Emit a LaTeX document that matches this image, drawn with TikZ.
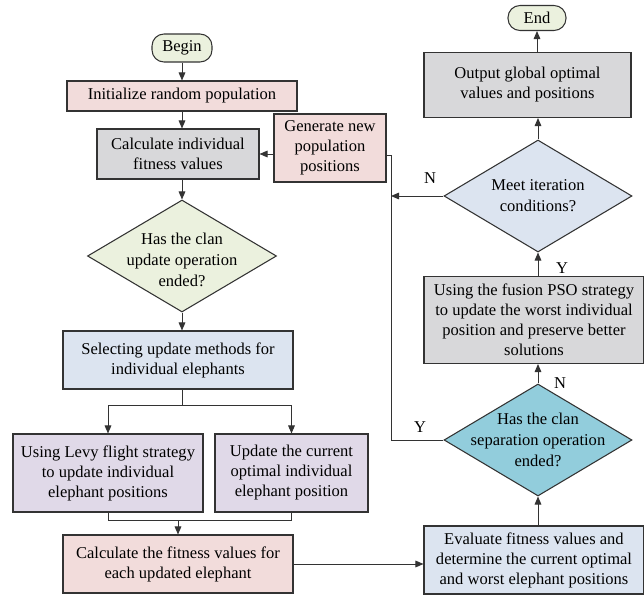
\documentclass[tikz,border=0pt]{standalone}
\usepackage{fontspec}
\setmainfont{Liberation Serif}
\usetikzlibrary{arrows.meta,shapes.geometric}

\definecolor{linegray}{HTML}{333333}
\definecolor{pinkfill}{HTML}{F2DCDB}
\definecolor{grayfill}{HTML}{D8D8DA}
\definecolor{greenfill}{HTML}{EBF1DE}
\definecolor{bluefill}{HTML}{DCE4F0}
\definecolor{lilacfill}{HTML}{E0D9E8}
\definecolor{cyanfill}{HTML}{92CDDC}

\tikzset{
  sz/.style 2 args={minimum width=#1*0.75pt,minimum height=#2*0.75pt},
  box/.style={draw=linegray,line width=0.8pt,align=center,inner sep=2pt},
  term/.style={box,fill=greenfill,rounded corners=9pt},
  dia/.style={diamond,draw=linegray,line width=0.8pt,inner sep=0pt},
  dtext/.style={align=center,font=\fontsize{12.4}{15.8}\selectfont},
  arr/.style={draw=linegray,line width=0.7pt,-{Triangle[length=6pt,width=5pt]}},
  lne/.style={draw=linegray,line width=0.7pt}
}

\begin{document}
\begin{tikzpicture}[x=0.75pt,y=-0.75pt,font=\fontsize{12.4}{15}\selectfont]
\useasboundingbox (0,0) rectangle (644,596);

\node[term,sz={60}{28}] (begin) at (182,48) {Begin};
\node[box,fill=pinkfill,sz={230}{30}] (init) at (182,96) {Initialize random population};
\node[box,fill=grayfill,sz={162}{50}] (calc) at (178,154) {Calculate individual\\fitness values};
\node[box,fill=pinkfill,sz={112}{68}] (gen) at (330,148) {Generate new\\population\\positions};
\node[dia,fill=greenfill,sz={189}{112}] (clan) at (182,256) {};
\node[dtext] (clantxt) at ([yshift=-3pt]clan.center) {Has the clan\\update operation\\ended?};
\node[box,fill=bluefill,sz={230}{58}] (select) at (178,360) {Selecting update methods for\\individual elephants};
\node[box,fill=lilacfill,sz={190}{78}] (levy) at (108,473) {Using Levy flight strategy\\to update individual\\elephant positions};
\node[box,fill=lilacfill,sz={153}{78}] (upd) at (291.5,473) {Update the current\\optimal individual\\elephant position};
\node[box,fill=pinkfill,sz={230}{58}] (fit) at (178,564) {Calculate the fitness values for\\each updated elephant};
\node[box,fill=bluefill,sz={220}{68}] (eval) at (534,560) {Evaluate fitness values and\\determine the current optimal\\and worst elephant positions};
\node[dia,fill=cyanfill,sz={188}{112}] (sep) at (538,440) {};
\node[dtext] (septxt) at (sep) {Has the clan\\separation operation\\ended?};
\node[box,fill=grayfill,sz={220}{87}] (pso) at (534,320) {Using the fusion PSO strategy\\to update the worst individual\\position and preserve better\\solutions};
\node[dia,fill=bluefill,sz={188}{112}] (meet) at (538,196) {};
\node[dtext] (meettxt) at (meet) {Meet iteration\\conditions?};
\node[box,fill=grayfill,sz={207}{65}] (out) at (527.5,85) {Output global optimal\\values and positions};
\node[term,sz={58}{25}] (end) at (537,18) {End};

\coordinate (back) at (391,155);

\draw[arr] (begin) -- (init);
\draw[arr] (init.south) -- (init.south |- calc.north);
\draw[arr] (calc.east -| gen.west) -- (calc.east);
\draw[arr] (calc.south -| clan) -- (clan.north);
\draw[arr] (clan.south) -- (clan.south |- select.north);
\draw[lne] (select.south -| clan) -- ++(0,16) coordinate (split);
\draw[lne] (split -| levy) -- (split -| upd);
\draw[arr] (split -| levy) -- (levy.north);
\draw[arr] (split -| upd) -- (upd.north);
\draw[lne] (levy.south) -- ++(0,8) coordinate (merge) -| (upd.south);
\draw[arr] (merge -| fit) -- (fit.north);
\draw[arr] (fit.east) -- (fit.east -| eval.west);
\draw[arr] (eval.north -| sep) -- (sep.south);
\draw[arr] (sep.north) -- (sep.north |- pso.south);
\draw[arr] (pso.north -| meet) -- (meet.south);
\draw[arr] (meet.north) -- (meet.north |- out.south);
\draw[arr] (out.north -| end) -- (end.south);
\draw[lne] (sep.west) -| (back) -- (back -| gen.east);
\draw[arr] (meet.west) -- (meet.west -| back);

\node (nmeet) at (430,178) {N};
\node (ysep) at (420,427) {Y};
\node (ymeet) at (562,268) {Y};
\node (nsep) at (560,383) {N};
\end{tikzpicture}
\end{document}
